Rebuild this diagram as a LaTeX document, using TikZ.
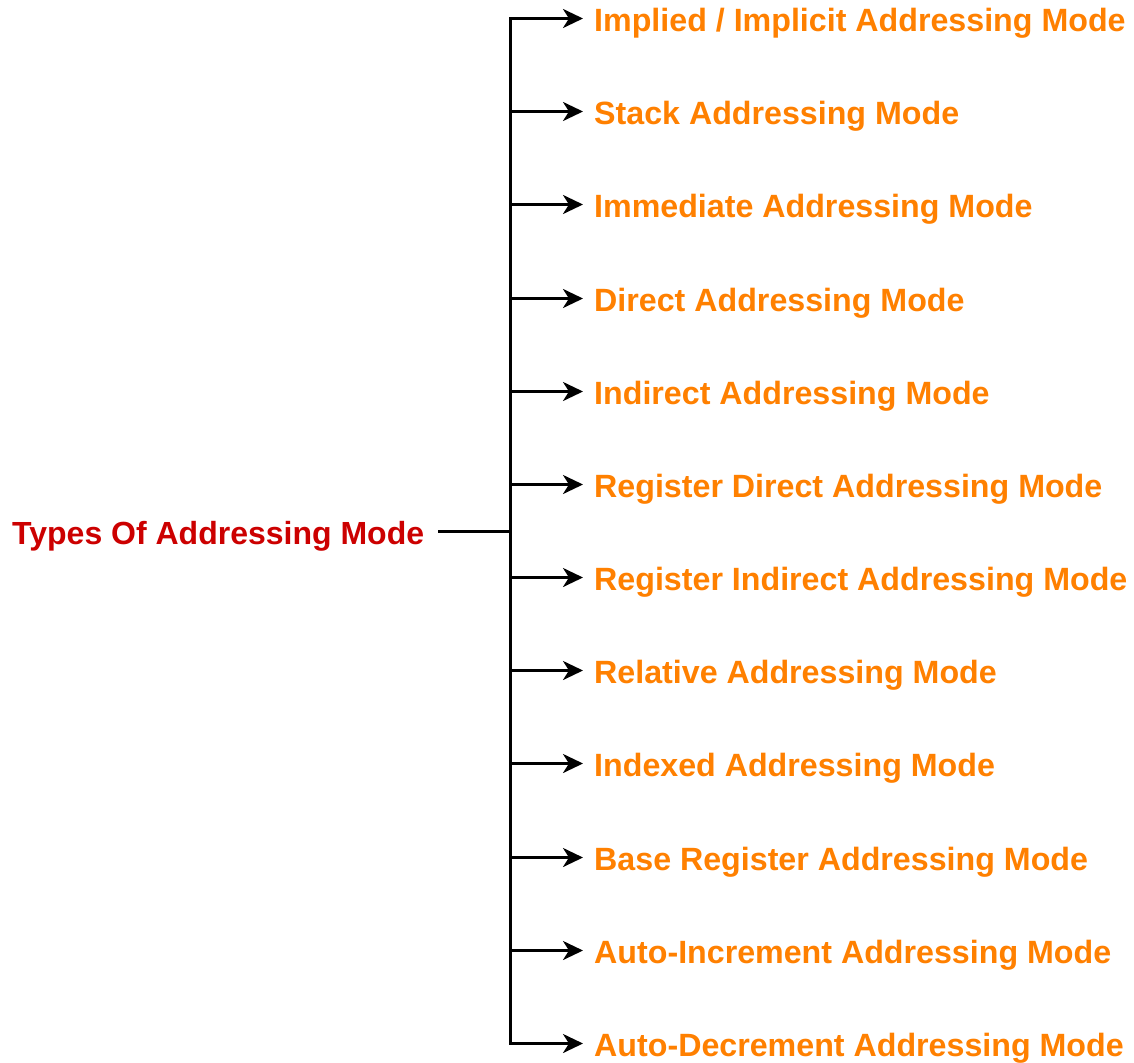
\documentclass[tikz,border=0pt]{standalone}
\usepackage{fontspec}
\setmainfont{Liberation Sans}
\usetikzlibrary{arrows.meta}
\definecolor{modeorange}{HTML}{FF8000}
\definecolor{rootred}{HTML}{CC0000}
\tikzset{
  modetext/.style={anchor=base west, inner sep=0pt, text=modeorange, font=\fontsize{32.2}{36}\selectfont\bfseries},
  roottext/.style={anchor=base west, inner sep=0pt, text=rootred, font=\fontsize{32}{36}\selectfont\bfseries},
  conn/.style={line width=3pt, black},
  arr/.style={conn, -{Stealth[length=20pt,width=19pt,inset=6pt]}}
}
\begin{document}
\begin{tikzpicture}[x=1pt,y=-1pt]
\useasboundingbox[fill=white] (0,0) rectangle (1134,1062);
\node[roottext] (root) at (12,544) {Types Of Addressing Mode};
\coordinate (rj) at (438,531.5);
\coordinate (rk) at (510.5,531.5);
\draw[conn] (rj) -- (rk);
\foreach \i/\t in {0/{Implied / Implicit Addressing Mode},
                   1/{Stack Addressing Mode},
                   2/{Immediate Addressing Mode},
                   3/{Direct Addressing Mode},
                   4/{Indirect Addressing Mode},
                   5/{Register Direct Addressing Mode},
                   6/{Register Indirect Addressing Mode},
                   7/{Relative Addressing Mode},
                   8/{Indexed Addressing Mode},
                   9/{Base Register Addressing Mode},
                   10/{Auto-Increment Addressing Mode},
                   11/{Auto-Decrement Addressing Mode}}{
  \pgfmathsetmacro{\yy}{round(18+93.18*\i)+0.5}
  \coordinate (j\i) at (510.5,\yy);
  \coordinate (e\i) at (583,\yy);
  \node[modetext] (m\i) at (594,\yy+13) {\t};
  \draw[arr] (j\i) -- (e\i);
}
\draw[conn, line cap=rect] (j0) -- (j11);
\end{tikzpicture}
\end{document}
